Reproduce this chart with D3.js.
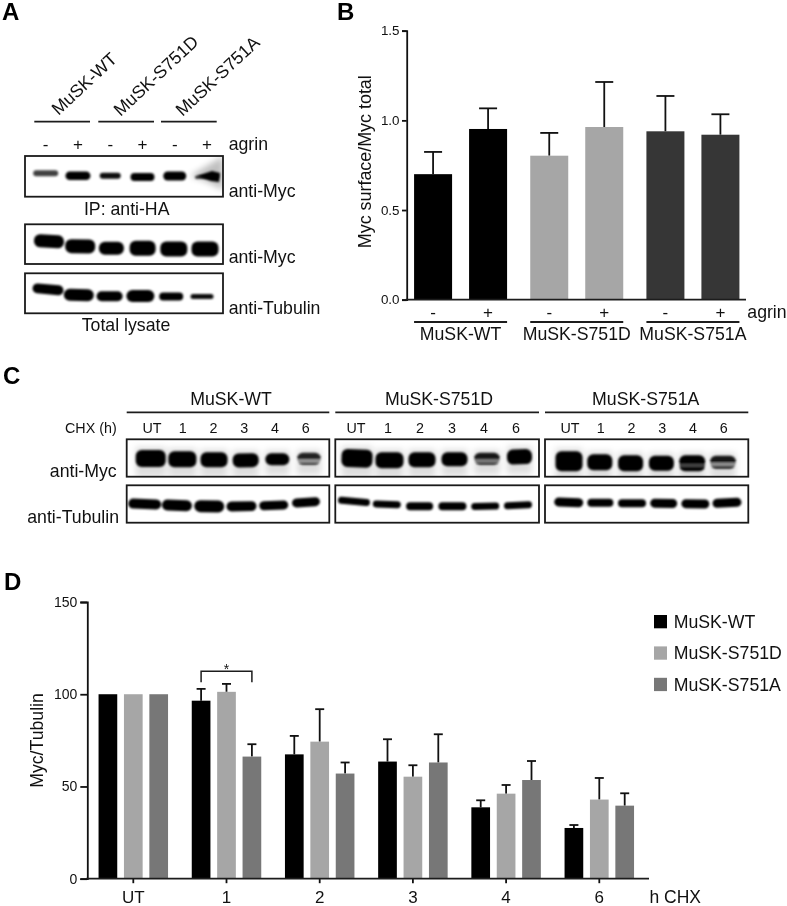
<!DOCTYPE html>
<html>
<head>
<meta charset="utf-8">
<script src="https://cdn.jsdelivr.net/npm/d3@7"></script>
<style>
    html, body { margin: 0; padding: 0; background: #fff; }
    svg { display: block; filter: blur(0.35px); }
    text { font-family: "Liberation Sans", Arial, sans-serif; fill: #111; }
</style>
</head>
<body>
<div id="chart"></div>
<script>
// Panel B
const surfaceGroups = ["MuSK-WT", "MuSK-S751D", "MuSK-S751A"];
const agrinStates = ["-", "+"];
const surfaceMeans = [[0.70, 0.952], [0.803, 0.963], [0.939, 0.92]];
const surfaceErrTops = [[0.824, 1.067], [0.93, 1.214], [1.136, 1.034]];
const surfaceColors = ["#000000", "#a6a6a6", "#363636"];
const surfaceTicks = [0, 0.5, 1, 1.5];

// Panel D
const chxTimes = ["UT", "1", "2", "3", "4", "6"];
const chxSeries = ["MuSK-WT", "MuSK-S751D", "MuSK-S751A"];
const chxMeans = [
    [100, 96.5, 67.4, 63.5, 38.7, 27.5],
    [100, 101.3, 74.3, 55.3, 46.1, 42.9],
    [100, 66.2, 57, 63, 53.5, 39.6]
];
const chxErrTops = [
    [100, 102.9, 77.4, 75.6, 42.5, 29.1],
    [100, 105.6, 91.9, 61.5, 50.8, 54.6],
    [100, 72.9, 63, 78.3, 63.8, 46.3]
];
const chxColors = ["#000000", "#a6a6a6", "#777777"];
const chxTicks = [0, 50, 100, 150];

// Blot bands: [width, thickness, offset from top of box, darkness, tilt, gap]
const ipMycBands = [[25, 6, 17.3, 0.75, 0, 0], [25, 8.5, 19.7, 1, 0, 0], [21, 6, 19.7, 0.95, 0, 0], [24, 8, 21, 1, 0, 0], [23, 9, 20, 1, 0, 0], [24, 3, 21, 0.8, -2, 0]];
const lysateMycBands = [[30, 13, 17, 1, 3, 0], [30, 14, 22, 1, 1, 0], [25, 13, 24, 1, 0, 0], [26, 15, 24, 1, 0, 0], [27, 15, 24.7, 1, 0, 0], [27, 15, 24.7, 1, 0, 0]];
const lysateTubBands = [[31, 10, 16, 1, 5, 0], [30, 12, 21.7, 1, 1, 0], [26, 10, 23, 1, 0, 0], [28, 12, 22.7, 1, 0, 0], [24, 8, 23.3, 1, 0, 0], [23, 5, 23.3, 0.95, 0, 0]];

const wtMycBands = [[30, 17, 19.3, 1, 0, 0], [28, 16, 20, 1, 0, 0], [27, 15, 20.5, 1, 0, 0], [26, 14, 21, 1, -1, 0], [24, 12, 20, 1, 0, 0], [24, 12, 19.5, 0.85, 0, 0.6]];
const dMycBands = [[31, 18, 19, 1, 2, 0], [28, 16, 21, 1, 0, 0], [27, 15, 20.5, 1, 0, 0], [26, 14, 20, 1, 0, 0], [26, 12, 19.5, 0.9, 0, 0.5], [25, 15, 17.5, 1, -2, 0]];
const aMycBands = [[27, 20, 22, 1, 0, 0], [25, 16, 23, 1, 0, 0], [25, 16, 24, 1, 0, 0], [25, 15, 24, 1, 0, 0], [26, 16, 24, 1, 0, 0.3], [26, 13, 23, 0.9, 0, 0.6]];

const wtTubBands = [[33, 10, 18.7, 1, 2, 0], [30, 11, 20, 1, 2, 0], [30, 12, 21, 1, 1, 0], [30, 10, 21, 1, -1, 0], [29, 9, 20, 1, -2, 0], [28, 9, 17, 1, -4, 0]];
const dTubBands = [[32, 7, 16, 1, 5, 0], [28, 7, 19, 1, 2, 0], [27, 8, 21, 1, 0, 0], [28, 8, 21, 1, 0, 0], [28, 7, 21, 1, -1, 0], [28, 7, 20, 1, -3, 0]];
const aTubBands = [[29, 9, 17, 1, 2, 0], [26, 8, 17.5, 1, 0, 0], [28, 8, 18, 1, 0, 0], [27, 9, 18, 1, 1, 0], [28, 9, 18.5, 1, 1, 0], [29, 9, 17.5, 1, -3, 0]];

const width = 787;
const height = 906;

const svg = d3.select("#chart").append("svg")
    .attr("width", width)
    .attr("height", height)
    .attr("viewBox", `0 0 ${width} ${height}`);

const defs = svg.append("defs");
defs.append("filter")
    .attr("id", "soft")
    .attr("x", "-20%").attr("y", "-20%")
    .attr("width", "140%").attr("height", "140%")
    .append("feGaussianBlur")
    .attr("stdDeviation", 0.9);
defs.append("filter")
    .attr("id", "smear")
    .attr("x", "-50%").attr("y", "-50%")
    .attr("width", "200%").attr("height", "200%")
    .append("feGaussianBlur")
    .attr("stdDeviation", 3);

function label(parent, x, y, txt, size = 17.7, anchor = "start") {
    return parent.append("text")
        .attr("x", x)
        .attr("y", y)
        .attr("font-size", size)
        .attr("text-anchor", anchor)
        .text(txt);
}

function rule(parent, x1, x2, y, strokeWidth = 1.6) {
    parent.append("line")
        .attr("x1", x1).attr("x2", x2)
        .attr("y1", y).attr("y2", y)
        .attr("stroke", "#1c1c1c")
        .attr("stroke-width", strokeWidth);
}

function panelLetter(x, y, txt) {
    label(svg, x, y, txt, 24).attr("font-weight", "bold").style("fill", "#000");
}

let blotCount = 0;
// One boxed blot, lanes spread between firstLane and lastLane
function drawBlot(x, y, w, h, firstLane, lastLane, bands, smear) {
    const lanes = d3.scalePoint().domain(d3.range(bands.length)).range([firstLane, lastLane]);
    const clipId = `blot-clip-${blotCount++}`;
    defs.append("clipPath").attr("id", clipId)
        .append("rect").attr("x", x).attr("y", y).attr("width", w).attr("height", h);

    const clipped = svg.append("g").attr("clip-path", `url(#${clipId})`);
    if (smear) {
        clipped.append("g").attr("filter", "url(#smear)")
            .selectAll("rect")
            .data(bands)
            .enter()
            .append("rect")
            .attr("x", (d, i) => lanes(i) - d[0] / 2)
            .attr("y", d => y + d[2] - d[1] / 2 - 3)
            .attr("width", d => d[0])
            .attr("height", d => d[1] + 13)
            .attr("fill", "#000")
            .attr("opacity", 0.13);
    }
    const inner = clipped.append("g").attr("filter", "url(#soft)");
    inner.selectAll(".band")
        .data(bands)
        .enter()
        .append("rect")
        .attr("class", "band")
        .attr("x", (d, i) => lanes(i) - d[0] / 2)
        .attr("y", d => y + d[2] - d[1] / 2)
        .attr("width", d => d[0])
        .attr("height", d => d[1])
        .attr("rx", d => Math.min(d[1] / 2, 6))
        .attr("fill", "#000")
        .attr("opacity", d => d[3])
        .attr("transform", (d, i) => `rotate(${d[4]},${lanes(i)},${y + d[2]})`);
    // doublets: a pale split runs across the whole band
    inner.selectAll(".gap")
        .data(bands.filter(d => d[5] > 0).map(d => ({ d, i: bands.indexOf(d) })))
        .enter()
        .append("rect")
        .attr("class", "gap")
        .attr("x", e => lanes(e.i) - e.d[0] / 2 - 2)
        .attr("y", e => y + e.d[2] + 0.8)
        .attr("width", e => e.d[0] + 4)
        .attr("height", 2.6)
        .attr("fill", "#fff")
        .attr("opacity", e => e.d[5]);

    svg.append("rect")
        .attr("x", x).attr("y", y).attr("width", w).attr("height", h)
        .attr("fill", "none")
        .attr("stroke", "#1a1a1a")
        .attr("stroke-width", 1.8);
    return clipped;
}

// ---------- A ----------
panelLetter(2, 20, "A");

const laneA = d3.scalePoint().domain(d3.range(6)).range([45.7, 207]);
const headA = [[58.5, 116, 34.3, 90], [120.5, 117, 98.3, 154], [182.5, 117, 161, 216.7]];
surfaceGroups.forEach((g, i) => {
    const h = headA[i];
    label(svg, h[0], h[1], g, 17.7).attr("transform", `rotate(-43,${h[0]},${h[1]})`);
    rule(svg, h[2], h[3], 121.7, 1.8);
});
d3.range(6).forEach(i => {
    label(svg, laneA(i), 149.6, agrinStates[i % 2], 17, "middle");
});
label(svg, 228.7, 150, "agrin");

const ipBlot = drawBlot(25, 156, 198, 40.7, 45.7, 207, ipMycBands, false);
ipBlot.append("path")
    .attr("d", d3.line()([[190, 176], [223, 156], [223, 190], [205, 181]]))
    .attr("fill", "#000")
    .attr("opacity", 0.25)
    .attr("filter", "url(#smear)");
ipBlot.append("path")
    .attr("d", d3.line()([[197, 176], [212, 171], [220, 173], [219, 182], [211, 181]]))
    .attr("fill", "#000")
    .attr("filter", "url(#soft)");
label(svg, 228.7, 196.7, "anti-Myc");
label(svg, 126.7, 215, "IP: anti-HA", 17.7, "middle");

drawBlot(25, 224.3, 198, 39.7, 49, 205, lysateMycBands, false);
label(svg, 228.7, 263.3, "anti-Myc");

drawBlot(25, 273.3, 198, 40, 48, 202, lysateTubBands, false);
label(svg, 228.7, 314, "anti-Tubulin");
label(svg, 126, 330.7, "Total lysate", 17.7, "middle");

// ---------- B ----------
panelLetter(337, 20, "B");

const yB = d3.scaleLinear().domain([0, 1.5]).range([299.7, 30.7]);
const xB = d3.scaleBand().domain(surfaceGroups).range([402.5, 751]);
const xBInner = d3.scaleBand().domain(agrinStates).range([3.08, 113.08]).paddingInner(0.309).paddingOuter(0.1545);

const chartB = svg.append("g");
surfaceGroups.forEach((g, gi) => {
    agrinStates.forEach((a, ai) => {
        const cx = xB(g) + xBInner(a) + xBInner.bandwidth() / 2;
        chartB.append("line")
            .attr("x1", cx).attr("x2", cx)
            .attr("y1", yB(surfaceErrTops[gi][ai]))
            .attr("y2", yB(surfaceMeans[gi][ai]))
            .attr("stroke", "#111").attr("stroke-width", 1.8);
        chartB.append("line")
            .attr("x1", cx - 9).attr("x2", cx + 9)
            .attr("y1", yB(surfaceErrTops[gi][ai]))
            .attr("y2", yB(surfaceErrTops[gi][ai]))
            .attr("stroke", "#111").attr("stroke-width", 1.8);
        chartB.append("rect")
            .attr("x", xB(g) + xBInner(a))
            .attr("y", yB(surfaceMeans[gi][ai]))
            .attr("width", xBInner.bandwidth())
            .attr("height", yB(0) - yB(surfaceMeans[gi][ai]))
            .attr("fill", surfaceColors[gi]);
        label(chartB, cx, 318, a, 17, "middle");
    });
    const left = xB(g) + xBInner("-");
    const right = xB(g) + xBInner("+") + xBInner.bandwidth();
    rule(chartB, left, right, 322, 1.8);
    label(chartB, (left + right) / 2, 340, g, 17.7, "middle");
});

const axisB = chartB.append("g")
    .attr("transform", "translate(406.7,0)")
    .call(d3.axisLeft(yB)
        .tickValues(surfaceTicks)
        .tickFormat(d3.format(".1f"))
        .tickSize(4.7)
        .tickPadding(2.5));
axisB.selectAll("path, line").attr("stroke", "#111").attr("stroke-width", 1.8);
axisB.selectAll("text").attr("font-size", 13.4).attr("font-family", null);
rule(chartB, 405.8, 746, yB(0), 1.8);

label(chartB, 0, 0, "Myc surface/Myc total", 17.9, "middle")
    .attr("transform", `translate(371,161.7) rotate(-90)`);
label(chartB, 747.3, 318, "agrin");

// ---------- C ----------
panelLetter(3, 384, "C");

const rowsC = [
    { title: "MuSK-WT", x: 126.7, w: 202.6, tx: 231, first: 152, last: 305.7, myc: wtMycBands, mycLanes: [150.7, 309], tub: wtTubBands, tubLanes: [144.7, 306] },
    { title: "MuSK-S751D", x: 335.3, w: 203.7, tx: 439, first: 356, last: 516, myc: dMycBands, mycLanes: [357, 519.5], tub: dTubBands, tubLanes: [354, 518] },
    { title: "MuSK-S751A", x: 545, w: 203.3, tx: 645.7, first: 570, last: 723.7, myc: aMycBands, mycLanes: [569, 723], tub: aTubBands, tubLanes: [568.7, 727] }
];
label(svg, 116.7, 433.3, "CHX (h)", 14.3, "end");
rowsC.forEach(r => {
    label(svg, r.tx, 405, r.title, 17.7, "middle");
    rule(svg, r.x, r.x + r.w, 412.3, 1.8);
    const lanes = d3.scalePoint().domain(chxTimes).range([r.first, r.last]);
    chxTimes.forEach(t => label(svg, lanes(t), 433.3, t, 14.3, "middle"));
    drawBlot(r.x, 439.3, r.w, 37.4, r.mycLanes[0], r.mycLanes[1], r.myc, true);
    drawBlot(r.x, 485.3, r.w, 37.4, r.tubLanes[0], r.tubLanes[1], r.tub, false);
});
label(svg, 116.7, 476.7, "anti-Myc", 17.7, "end");
label(svg, 119, 522.7, "anti-Tubulin", 17.7, "end");

// ---------- D ----------
panelLetter(4, 590, "D");

const yD = d3.scaleLinear().domain([0, 150]).range([878.7, 602]);
const xD = d3.scaleBand().domain(chxTimes).range([86.7, 645.9]);
const xDInner = d3.scaleBand().domain(chxSeries).range([8.5, 84.7]).paddingInner(0.264).paddingOuter(0.132);

const chartD = svg.append("g");
chxSeries.forEach((s, si) => {
    chxTimes.forEach((t, ti) => {
        const cx = xD(t) + xDInner(s) + xDInner.bandwidth() / 2;
        if (chxErrTops[si][ti] > chxMeans[si][ti]) {
            chartD.append("line")
                .attr("x1", cx).attr("x2", cx)
                .attr("y1", yD(chxErrTops[si][ti]))
                .attr("y2", yD(chxMeans[si][ti]))
                .attr("stroke", "#111").attr("stroke-width", 1.8);
            chartD.append("line")
                .attr("x1", cx - 4.5).attr("x2", cx + 4.5)
                .attr("y1", yD(chxErrTops[si][ti]))
                .attr("y2", yD(chxErrTops[si][ti]))
                .attr("stroke", "#111").attr("stroke-width", 1.8);
        }
        chartD.append("rect")
            .attr("x", xD(t) + xDInner(s))
            .attr("y", yD(chxMeans[si][ti]))
            .attr("width", xDInner.bandwidth())
            .attr("height", yD(0) - yD(chxMeans[si][ti]))
            .attr("fill", chxColors[si]);
    });
});

const axisDy = chartD.append("g")
    .attr("transform", "translate(87.3,0)")
    .call(d3.axisLeft(yD).tickValues(chxTicks).tickSize(7).tickPadding(3));
axisDy.selectAll("path, line").attr("stroke", "#111").attr("stroke-width", 1.8);
axisDy.selectAll("text").attr("font-size", 14).attr("font-family", null);

const axisDx = chartD.append("g")
    .attr("transform", `translate(0,${yD(0)})`)
    .call(d3.axisBottom(xD).tickSize(4.5).tickPadding(8));
axisDx.select(".domain").remove();
axisDx.selectAll("line").attr("stroke", "#111").attr("stroke-width", 1.8);
axisDx.selectAll("text").attr("font-size", 17).attr("font-family", null);
rule(chartD, 86.4, 649, yD(0), 1.8);

label(chartD, 649.5, 902.5, "h CHX", 17.5);
label(chartD, 0, 0, "Myc/Tubulin", 17.7, "middle")
    .attr("transform", `translate(42.5,740.5) rotate(-90)`);

// bracket over the 1 h group
const bracketLeft = xD("1") + xDInner(chxSeries[0]) + xDInner.bandwidth() / 2;
const bracketRight = xD("1") + xDInner(chxSeries[2]) + xDInner.bandwidth() / 2;
chartD.append("path")
    .attr("d", d3.line()([[bracketLeft, 682.3], [bracketLeft, 671.3], [bracketRight, 671.3], [bracketRight, 682.3]]))
    .attr("fill", "none")
    .attr("stroke", "#1c1c1c")
    .attr("stroke-width", 1.5);
label(chartD, (bracketLeft + bracketRight) / 2, 674, "*", 14, "middle");

const legend = svg.append("g").selectAll("g")
    .data(chxSeries)
    .enter()
    .append("g")
    .attr("transform", (d, i) => `translate(654,${615 + i * 31.4})`);
legend.append("rect")
    .attr("width", 13)
    .attr("height", 13.3)
    .attr("fill", (d, i) => chxColors[i]);
legend.append("text")
    .attr("x", 19.7)
    .attr("y", 13)
    .attr("font-size", 17.7)
    .text(d => d);
</script>
</body>
</html>
